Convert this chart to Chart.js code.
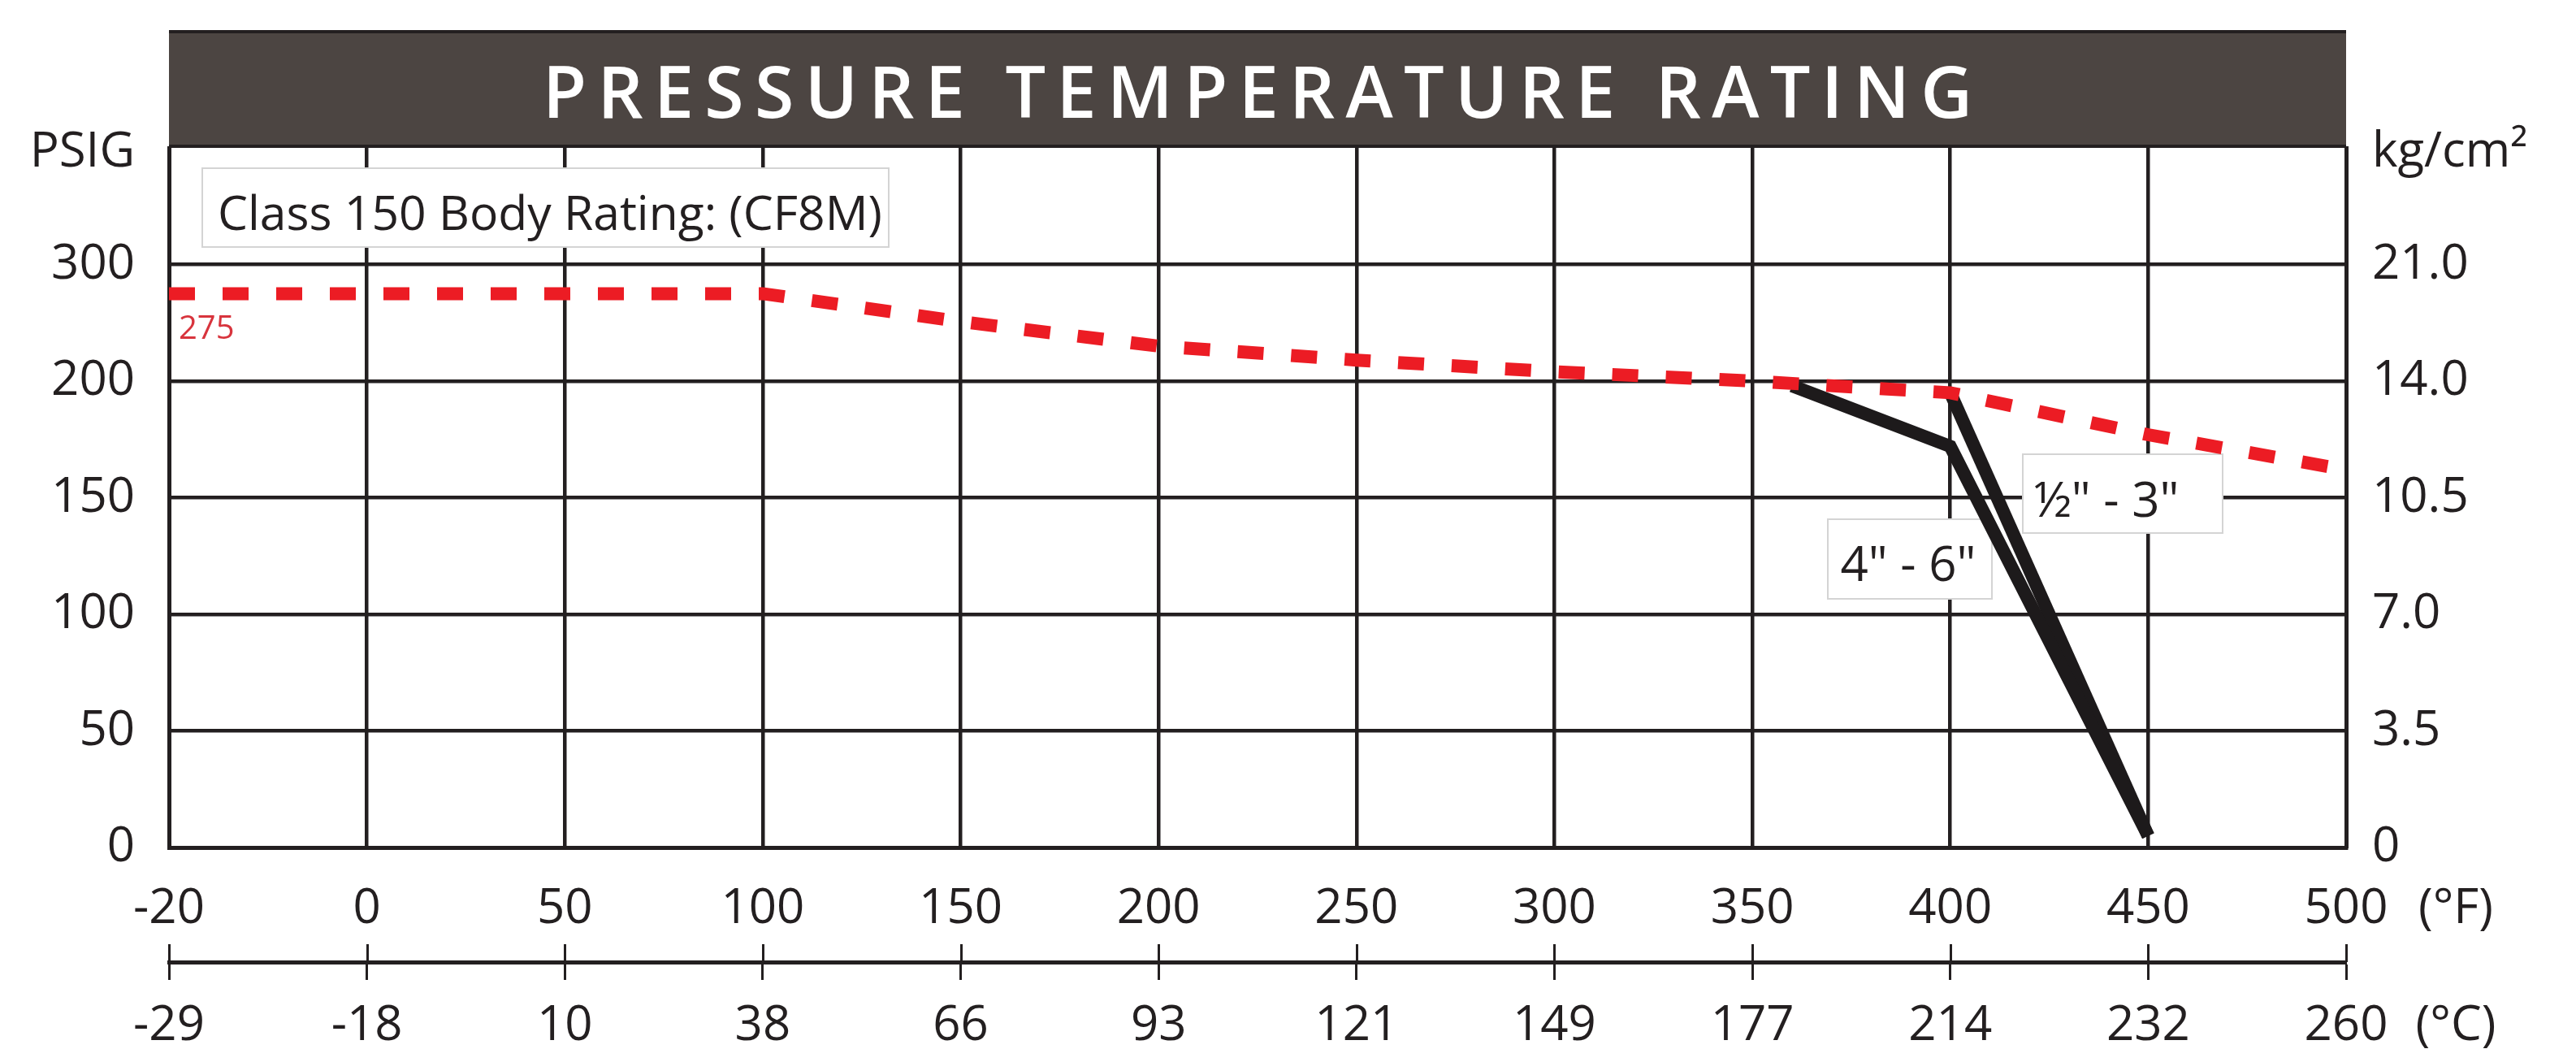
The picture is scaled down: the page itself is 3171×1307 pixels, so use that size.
<!DOCTYPE html>
<html>
<head>
<meta charset="utf-8">
<title>Pressure Temperature Rating</title>
<script src="https://cdn.jsdelivr.net/npm/chart.js@4.4.1/dist/chart.umd.min.js"></script>
<style>
  html, body { margin: 0; padding: 0; background: #fff; }
  canvas { display: block; }
</style>
</head>
<body>
<canvas id="myChart" width="3171" height="1307"></canvas>
<script>
// temperature categories (°F) and the matching °C row
const fahrenheit = [-20, 0, 50, 100, 150, 200, 250, 300, 350, 400, 450, 500];
const celsius = ['-29', '-18', '10', '38', '66', '93', '121', '149', '177', '214', '232', '260'];

// Class 150 body rating (CF8M), psig at each temperature above
const bodyRating = [275, 275, 275, 275, 251, 230, 218, 208, 200, 195, 177, 162];

// seat ratings, 4" - 6"
const seat46Temps = [360, 400, 450];
const seat46 = [198, 172, 5];

// seat ratings, 1/2" - 3"
const seat053Temps = [400, 450];
const seat053 = [195, 5];

// pressure ticks, psig on the left and kg/cm2 on the right
const psiTicks = [0, 50, 100, 150, 200, 300];
const kgTicks = ['0', '3.5', '7.0', '10.5', '14.0', '21.0'];

const INK = '#231f20';
const FONT = "'Open Sans', sans-serif";
const TICK_SIZE = 60;

// x axis is evenly spaced per label: -20 -> 0 is one step, then 50°F per step
function tempPos(t) {
  return t <= 0 ? (t + 20) / 20 : 1 + t / 50;
}

// y axis skips 250: 0-200 in 50 psi steps, then a single step up to 300
function psiPos(p) {
  return p <= 200 ? p / 50 : 4 + (p - 200) / 100;
}

const UNIT_ROW = 5.96; // where the PSIG / kg/cm2 captions sit on the y axes

function points(temps, values) {
  return temps.map((t, i) => ({ x: tempPos(t), y: psiPos(values[i]) }));
}

function labelBox(ctx, x, y, w, h) {
  ctx.save();
  ctx.fillStyle = '#ffffff';
  ctx.fillRect(x, y, w, h);
  ctx.strokeStyle = '#d4d4d4';
  ctx.lineWidth = 2;
  ctx.strokeRect(x, y, w, h);
  ctx.restore();
}

const decorations = {
  id: 'decorations',
  beforeDraw(chart) {
    const ctx = chart.ctx;
    ctx.save();
    ctx.fillStyle = '#ffffff';
    ctx.fillRect(0, 0, chart.width, chart.height);
    ctx.restore();
  },
  beforeDatasetsDraw(chart) {
    const ctx = chart.ctx;

    // "Class 150 Body Rating" caption, font fitted to the box
    labelBox(ctx, 249, 207, 845, 97);
    ctx.save();
    const caption = 'Class 150 Body Rating: (CF8M)';
    ctx.font = '100px ' + FONT;
    const size = Math.min(64, 100 * 818 / ctx.measureText(caption).width);
    ctx.font = size + 'px ' + FONT;
    ctx.fillStyle = INK;
    ctx.textBaseline = 'alphabetic';
    ctx.fillText(caption, 268, 262 + size * 0.357);
    ctx.restore();

    // size captions
    labelBox(ctx, 2250, 639, 202, 98);
    labelBox(ctx, 2490, 559, 246, 97);
    ctx.save();
    ctx.font = TICK_SIZE + 'px ' + FONT;
    ctx.fillStyle = INK;
    ctx.textAlign = 'center';
    ctx.textBaseline = 'alphabetic';
    ctx.fillText('4" - 6"', 2349, 694 + TICK_SIZE * 0.357);
    ctx.fillText('½" - 3"', 2593, 615 + TICK_SIZE * 0.357);
    ctx.restore();
  },
  afterDraw(chart) {
    const ctx = chart.ctx;
    const area = chart.chartArea;

    // title bar
    ctx.save();
    ctx.fillStyle = '#4c4542';
    ctx.fillRect(area.left, 37, area.right - area.left, area.top - 37);
    ctx.strokeStyle = INK;
    ctx.lineWidth = 4;
    ctx.beginPath();
    ctx.moveTo(area.left, 39);
    ctx.lineTo(area.right, 39);
    ctx.moveTo(area.left, area.top - 2);
    ctx.lineTo(area.right, area.top - 2);
    ctx.stroke();

    const title = 'PRESSURE TEMPERATURE RATING';
    const titleWidth = 1760;
    ctx.font = '600 88px ' + FONT;
    const plain = ctx.measureText(title).width;
    ctx.letterSpacing = ((titleWidth - plain) / (title.length - 1)) + 'px';
    ctx.fillStyle = '#ffffff';
    ctx.textBaseline = 'alphabetic';
    ctx.textAlign = 'left';
    ctx.fillText(title, (area.left + area.right) / 2 - titleWidth / 2, 145);
    ctx.restore();

    // upper half of the °C tick marks
    const c = chart.scales.x2;
    ctx.save();
    ctx.strokeStyle = INK;
    ctx.lineWidth = 3;
    ctx.beginPath();
    fahrenheit.forEach((t) => {
      const px = Math.round(c.getPixelForValue(tempPos(t))) + 0.5;
      ctx.moveTo(px, c.top - 22);
      ctx.lineTo(px, c.top);
    });
    ctx.stroke();
    ctx.restore();

    // unit captions at the end of the temperature rows
    ctx.save();
    ctx.font = TICK_SIZE + 'px ' + FONT;
    ctx.fillStyle = INK;
    ctx.textAlign = 'center';
    ctx.textBaseline = 'middle';
    ctx.fillText('(°F)', 3023, 1119);
    ctx.fillText('(°C)', 3023, 1263);
    ctx.restore();

    // 275 note under the body rating line
    ctx.save();
    ctx.font = '40px ' + FONT;
    ctx.fillStyle = '#d8343d';
    ctx.textBaseline = 'alphabetic';
    ctx.fillText(String(bodyRating[0]), area.left + 12, 417);
    ctx.restore();
  }
};

const ctx = document.getElementById('myChart').getContext('2d');
Chart.defaults.font.family = FONT;
Chart.defaults.color = INK;

const myChart = new Chart(ctx, {
  type: 'line',
  data: {
    datasets: [{
      label: 'Class 150 Body Rating: (CF8M)',
      data: points(fahrenheit, bodyRating),
      borderColor: '#ec1c24',
      borderWidth: 16,
      borderDash: [32, 34],
      borderCapStyle: 'butt',
      pointRadius: 0,
      tension: 0
    }, {
      label: '4" - 6"',
      data: points(seat46Temps, seat46),
      borderColor: '#1d1a1b',
      borderWidth: 16,
      borderJoinStyle: 'miter',
      pointRadius: 0,
      tension: 0
    }, {
      label: '½" - 3"',
      data: points(seat053Temps, seat053),
      borderColor: '#1d1a1b',
      borderWidth: 16,
      pointRadius: 0,
      tension: 0
    }]
  },
  options: {
    responsive: false,
    animation: false,
    layout: { padding: { top: 182, left: 0, right: 0, bottom: 0 } },
    plugins: {
      legend: { display: false },
      tooltip: { enabled: false }
    },
    scales: {
      x: {
        type: 'linear',
        position: 'bottom',
        weight: 0,
        min: 0,
        max: 11,
        afterBuildTicks: (axis) => { axis.ticks = fahrenheit.map((t) => ({ value: tempPos(t) })); },
        afterFit: (axis) => { axis.height = 141; },
        grid: { color: INK, lineWidth: 4.5, drawTicks: false },
        border: { display: true, color: INK, width: 5 },
        ticks: {
          padding: 40,
          color: INK,
          font: { size: TICK_SIZE },
          maxRotation: 0,
          autoSkip: false,
          callback: (value, index) => String(fahrenheit[index])
        }
      },
      x2: {
        type: 'linear',
        position: 'bottom',
        weight: 1,
        min: 0,
        max: 11,
        afterBuildTicks: (axis) => { axis.ticks = fahrenheit.map((t) => ({ value: tempPos(t) })); },
        afterFit: (axis) => { axis.height = 123; },
        grid: { drawOnChartArea: false, tickLength: 22, tickWidth: 3, tickColor: INK },
        border: { display: true, color: INK, width: 5 },
        ticks: {
          padding: 21,
          color: INK,
          font: { size: TICK_SIZE },
          maxRotation: 0,
          autoSkip: false,
          callback: (value, index) => celsius[index]
        }
      },
      y: {
        type: 'linear',
        position: 'left',
        min: 0,
        max: 6,
        afterBuildTicks: (axis) => {
          axis.ticks = psiTicks.map((p) => ({ value: psiPos(p) })).concat([{ value: UNIT_ROW }]);
        },
        afterFit: (axis) => { axis.width = 208; },
        grid: {
          color: (c) => (c.tick && c.tick.value > 5.5) ? 'rgba(0,0,0,0)' : INK,
          lineWidth: 4.5,
          drawTicks: false
        },
        border: { display: true, color: INK, width: 5 },
        ticks: {
          padding: 42,
          color: INK,
          font: { size: TICK_SIZE },
          autoSkip: false,
          callback: (value, index) => index < psiTicks.length ? String(psiTicks[index]) : 'PSIG'
        }
      },
      y1: {
        type: 'linear',
        position: 'right',
        min: 0,
        max: 6,
        afterBuildTicks: (axis) => {
          axis.ticks = psiTicks.map((p) => ({ value: psiPos(p) })).concat([{ value: UNIT_ROW }]);
        },
        afterFit: (axis) => { axis.width = 283; },
        grid: { display: false },
        border: { display: true, color: INK, width: 5 },
        ticks: {
          padding: 24,
          color: INK,
          font: { size: TICK_SIZE },
          autoSkip: false,
          callback: (value, index) => index < kgTicks.length ? kgTicks[index] : 'kg/cm²'
        }
      }
    }
  },
  plugins: [decorations]
});
</script>
</body>
</html>
